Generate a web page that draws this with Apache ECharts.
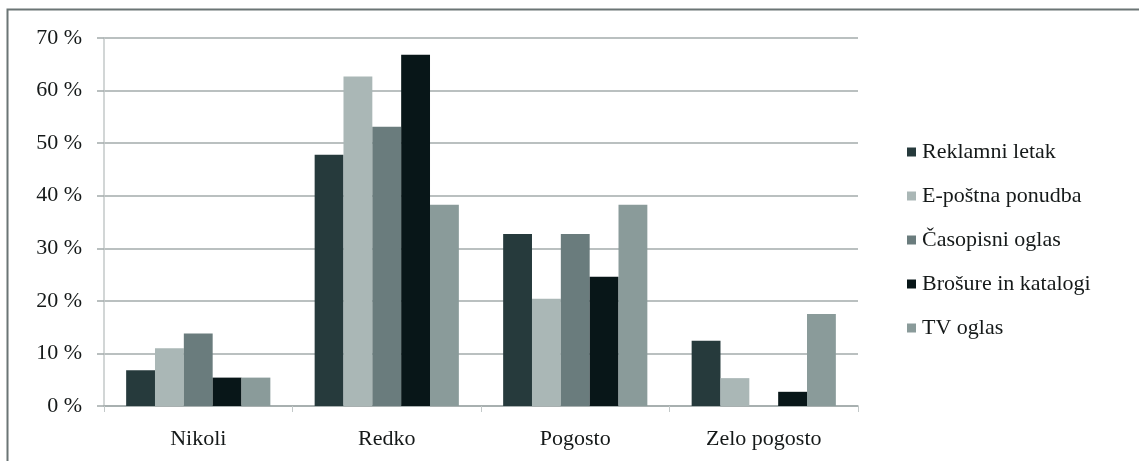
<!DOCTYPE html>
<html>
<head>
<meta charset="utf-8">
<script src="https://cdn.jsdelivr.net/npm/echarts@6/dist/echarts.min.js"></script>
<style>
  html, body { margin: 0; padding: 0; background: #fff; }
  #chart { width: 1139px; height: 461px; }
</style>
</head>
<body>
<div id="chart"></div>
<script>
// Categories (frequency) and share of respondents per advertising channel, in %
const categories = ['Nikoli', 'Redko', 'Pogosto', 'Zelo pogosto'];
const seriesNames = ['Reklamni letak', 'E-poštna ponudba', 'Časopisni oglas', 'Brošure in katalogi', 'TV oglas'];
const reklamniLetak = [6.8, 47.8, 32.7, 12.4];
const epostnaPonudba = [11.0, 62.7, 20.4, 5.3];
const casopisniOglas = [13.8, 53.1, 32.7, 0];
const brosureKatalogi = [5.4, 66.8, 24.6, 2.7];
const tvOglas = [5.4, 38.3, 38.3, 17.5];
const yTicks = [0, 10, 20, 30, 40, 50, 60, 70];

const seriesValues = [reklamniLetak, epostnaPonudba, casopisniOglas, brosureKatalogi, tvOglas];
const colors = ['#263a3c', '#aab7b6', '#6a7c7d', '#081618', '#8a9b9a'];

const fontFamily = '"Liberation Serif", "DejaVu Serif", serif';
const textColor = '#151919';
const gridColor = '#a3abab';

const chart = echarts.init(document.getElementById('chart'), null, { renderer: 'canvas' });

chart.setOption({
  animation: false,
  backgroundColor: '#ffffff',
  color: colors,
  textStyle: { fontFamily: fontFamily },
  graphic: [{
    type: 'rect',
    shape: { x: 7.5, y: 9.5, width: 1200, height: 600 },
    style: { fill: 'none', stroke: '#6b7575', lineWidth: 2 },
    silent: true,
    z: -1
  }],
  grid: { left: 104, right: 281, top: 38, bottom: 55, containLabel: false },
  legend: {
    orient: 'vertical',
    left: 902,
    top: 136,
    icon: 'rect',
    itemWidth: 9,
    itemHeight: 9,
    itemGap: 22,
    data: seriesNames,
    textStyle: { fontFamily: fontFamily, fontSize: 22, color: textColor, padding: [0, 0, 0, 1] }
  },
  xAxis: {
    type: 'category',
    data: categories,
    axisLine: { show: true, lineStyle: { color: gridColor, width: 1.5 } },
    axisTick: { show: true, length: 6, lineStyle: { color: '#c3c9c9' } },
    axisLabel: { fontFamily: fontFamily, fontSize: 22, color: textColor, margin: 22 }
  },
  yAxis: {
    type: 'value',
    min: yTicks[0],
    max: yTicks[yTicks.length - 1],
    interval: 10,
    axisLine: { show: true, lineStyle: { color: '#c3c9c9', width: 1.5 } },
    axisTick: { show: true, inside: false, length: 7, lineStyle: { color: gridColor, width: 1.5 } },
    splitLine: { show: true, lineStyle: { color: gridColor, width: 1.5 } },
    axisLabel: {
      fontFamily: fontFamily, fontSize: 22, color: textColor, margin: 22,
      formatter: function (v) { return v + ' %'; }
    }
  },
  series: seriesNames.map(function (name, i) {
    return {
      name: name,
      type: 'bar',
      data: seriesValues[i],
      barGap: '0%',
      barCategoryGap: '23.5%',
      itemStyle: { color: colors[i] }
    };
  })
});
</script>
</body>
</html>
